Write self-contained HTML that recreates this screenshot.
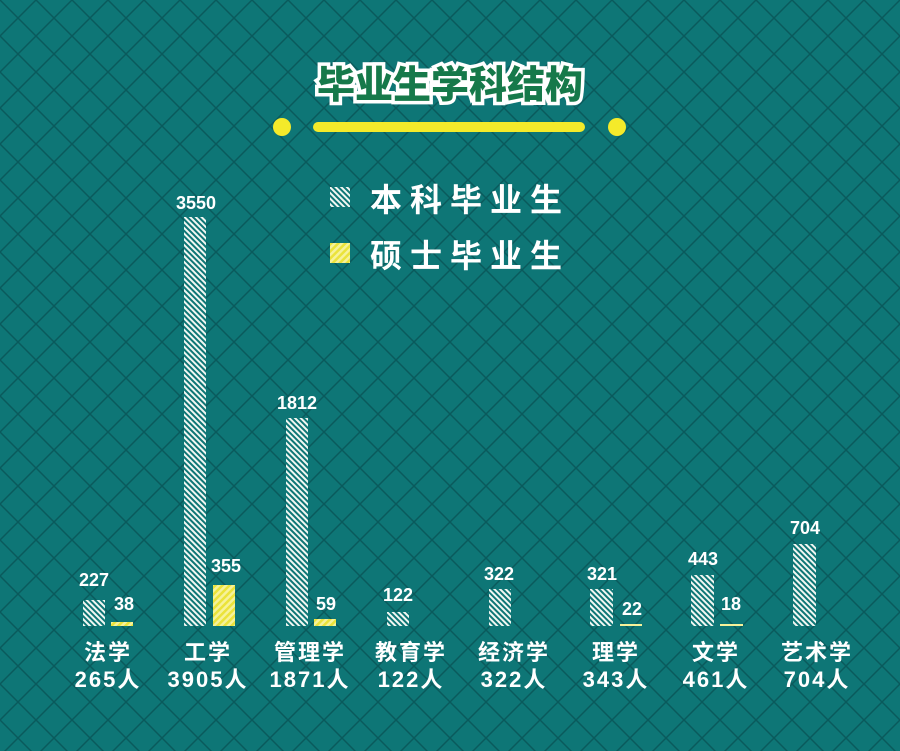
<!DOCTYPE html>
<html><head><meta charset="utf-8"><style>
html,body{margin:0;padding:0;background:#0e7676;}
svg{display:block}
text{font-family:"Liberation Sans","Noto Sans CJK SC",sans-serif;font-weight:bold;fill:#fff}
</style></head><body>
<svg width="900" height="751" viewBox="0 0 900 751" xmlns="http://www.w3.org/2000/svg">
<defs>
<pattern id="grid" width="36" height="36" patternUnits="userSpaceOnUse">
<rect width="36" height="36" fill="#0e7676"/>
<path d="M-18 18 L18 -18 M0 36 L36 0 M18 54 L54 18 M-18 18 L18 54 M0 0 L36 36 M18 -18 L54 18" stroke="#0a5a5c" stroke-width="1.5" fill="none"/>
</pattern>
<pattern id="hb" width="4" height="4" patternUnits="userSpaceOnUse" patternTransform="rotate(-45)">
<rect width="4" height="4" fill="#0e7676"/><rect width="2" height="4" fill="#f2f7f2"/>
</pattern>
<pattern id="hm" width="5" height="5" patternUnits="userSpaceOnUse" patternTransform="rotate(45)">
<rect width="5" height="5" fill="#f6f29a"/><rect width="2.5" height="5" fill="#ebe33a"/>
</pattern>
</defs>
<rect width="900" height="751" fill="url(#grid)"/>
<text x="450" y="98" text-anchor="middle" font-size="38" style="fill:#16794a;stroke:#fff;stroke-width:7;paint-order:stroke;font-weight:900">毕业生学科结构</text>
<line x1="318" y1="127" x2="580" y2="127" stroke="#f4ea2a" stroke-width="10" stroke-linecap="round"/>
<circle cx="282" cy="127" r="9" fill="#f4ea2a"/>
<circle cx="617" cy="127" r="9" fill="#f4ea2a"/>
<rect x="330" y="187" width="20" height="20" fill="url(#hb)"/>
<rect x="330" y="243" width="20" height="20" fill="url(#hm)"/>
<text x="370" y="211" font-size="32" letter-spacing="8">本科毕业生</text>
<text x="370" y="267" font-size="32" letter-spacing="8">硕士毕业生</text>
<g font-size="18" text-anchor="middle">
<rect x="83" y="600" width="22" height="26" fill="url(#hb)"/><text x="94" y="586">227</text>
<rect x="111" y="622" width="22" height="4" fill="url(#hm)"/><text x="124" y="610">38</text>
<rect x="184" y="217" width="22" height="409" fill="url(#hb)"/><text x="196" y="209">3550</text>
<rect x="213" y="585" width="22" height="41" fill="url(#hm)"/><text x="226" y="572">355</text>
<rect x="286" y="418" width="22" height="208" fill="url(#hb)"/><text x="297" y="409">1812</text>
<rect x="314" y="619" width="22" height="7" fill="url(#hm)"/><text x="326" y="610">59</text>
<rect x="387" y="612" width="22" height="14" fill="url(#hb)"/><text x="398" y="601">122</text>
<rect x="489" y="589" width="22" height="37" fill="url(#hb)"/><text x="499" y="580">322</text>
<rect x="590" y="589" width="23" height="37" fill="url(#hb)"/><text x="602" y="580">321</text>
<rect x="620" y="624" width="22" height="2" fill="#f6f29a"/><text x="632" y="615">22</text>
<rect x="691" y="575" width="23" height="51" fill="url(#hb)"/><text x="703" y="565">443</text>
<rect x="720" y="624" width="23" height="2" fill="#f6f29a"/><text x="731" y="610">18</text>
<rect x="793" y="544" width="23" height="82" fill="url(#hb)"/><text x="805" y="534">704</text>
</g>
<g font-size="22" text-anchor="middle" letter-spacing="2">
<text x="108" y="660">法学</text><text x="108" y="687">265人</text>
<text x="208" y="660">工学</text><text x="208" y="687">3905人</text>
<text x="310" y="660">管理学</text><text x="310" y="687">1871人</text>
<text x="411" y="660">教育学</text><text x="411" y="687">122人</text>
<text x="514" y="660">经济学</text><text x="514" y="687">322人</text>
<text x="616" y="660">理学</text><text x="616" y="687">343人</text>
<text x="716" y="660">文学</text><text x="716" y="687">461人</text>
<text x="817" y="660">艺术学</text><text x="817" y="687">704人</text>
</g>
</svg>
</body></html>
